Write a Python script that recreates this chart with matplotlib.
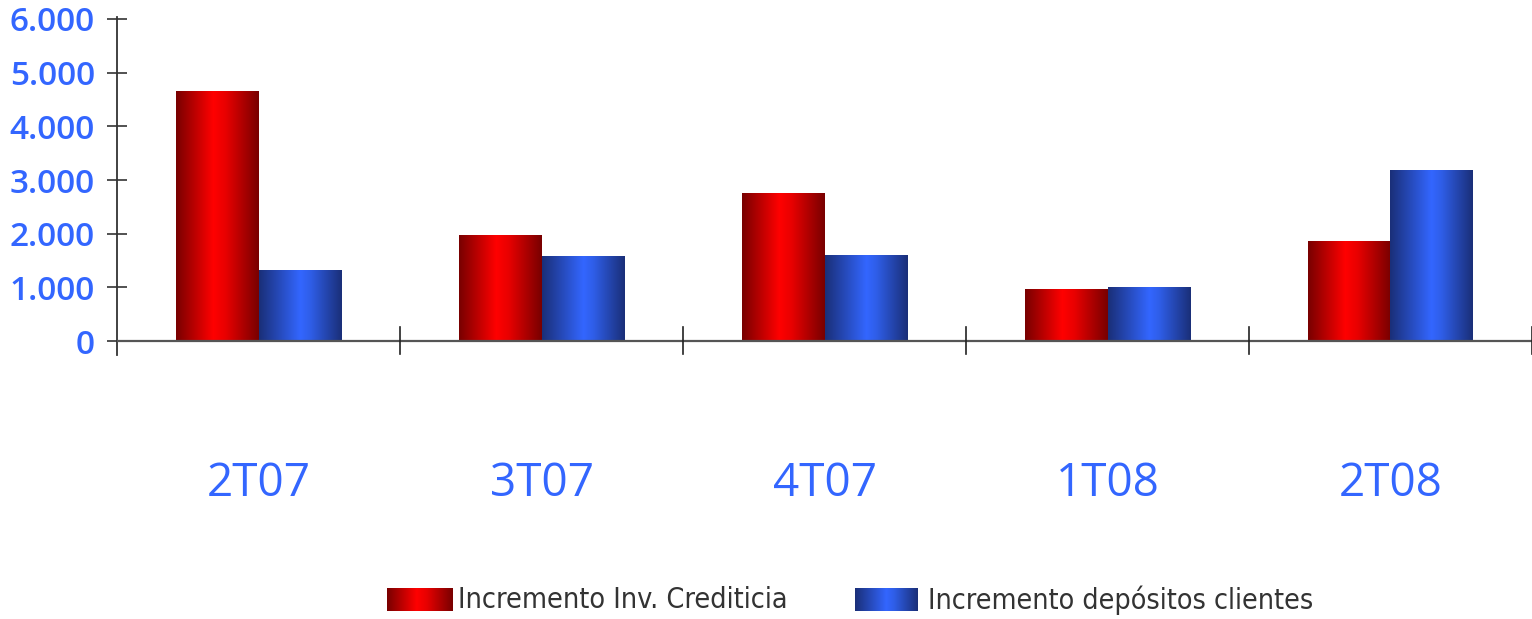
import numpy as np
import matplotlib
matplotlib.use("Agg")
import matplotlib.pyplot as plt
from matplotlib import font_manager
from matplotlib.colors import LinearSegmentedColormap

# data
trimestres = ["2T07", "3T07", "4T07", "1T08", "2T08"]
inv_crediticia = [4660, 1975, 2755, 970, 1865]
depositos = [1320, 1585, 1600, 1005, 3185]
series_names = ["Incremento Inv. Crediticia", "Incremento depósitos clientes"]
yticks = [0, 1000, 2000, 3000, 4000, 5000, 6000]

BLUE_TXT = "#3366ff"
red_cmap = LinearSegmentedColormap.from_list(
    "r", [(0, "#780000"), (0.45, "#ff0000"), (0.6, "#e80000"), (1, "#780000")])
blue_cmap = LinearSegmentedColormap.from_list(
    "b", [(0, "#1a2f78"), (0.5, "#3366ff"), (0.62, "#2f5ee8"), (1, "#1a2f78")])

names = {f.name for f in font_manager.fontManager.ttflist}
main_font = "Open Sans" if "Open Sans" in names else "DejaVu Sans"

fig = plt.figure(figsize=(15.32, 6.19), dpi=100)
H = 619.0
ax = fig.add_axes([117 / 1532, (H - 355) / H, 1 - 117 / 1532, (355 - 17) / H])

x = np.arange(len(trimestres))
w = 0.29
grad = np.linspace(0, 1, 256).reshape(1, -1)


def gradient_bars(xpos, vals, cmap):
    bars = ax.bar(xpos, vals, w, color="none", edgecolor="none", zorder=2)
    for b in bars:
        x0, y0 = b.get_x(), b.get_y()
        im = ax.imshow(grad, cmap=cmap, aspect="auto", zorder=2,
                       extent=(x0, x0 + b.get_width(), y0, y0 + b.get_height()))
        im.set_clip_path(b)


gradient_bars(x - w / 2, inv_crediticia, red_cmap)
gradient_bars(x + w / 2, depositos, blue_cmap)

ax.set_xlim(-0.5, len(trimestres) - 0.5)
ax.set_ylim(-260, 6037)

for s in ["top", "right", "bottom"]:
    ax.spines[s].set_visible(False)
ax.spines["left"].set_color("#333333")
ax.spines["left"].set_linewidth(1.3)
ax.axhline(0, color="#555555", lw=1.6, zorder=3)

# category separators
for xb in np.arange(0.5, len(trimestres), 1.0):
    ax.plot([xb, xb], [-250, 260], color="#222222", lw=1.2, zorder=3, clip_on=False)

ax.set_yticks(yticks)
ax.set_yticklabels([f"{v:,}".replace(",", ".") for v in yticks])
ax.tick_params(axis="y", direction="inout", length=14, width=1.2, color="#333333",
               pad=9, labelcolor=BLUE_TXT, labelsize=24)
for t in ax.get_yticklabels():
    t.set_fontfamily(main_font)
    t.set_fontweight("semibold")

ax.set_xticks(x)
ax.set_xticklabels(trimestres, fontsize=33, color=BLUE_TXT, fontfamily=main_font)
ax.tick_params(axis="x", length=0, pad=76)

# legend
cmaps = [red_cmap, blue_cmap]
sw_x = [387, 855]
sw_w = [65, 63]
tx_x = [458, 928]
tx_w = [330, 386]
renderer = fig.canvas.get_renderer()
for name, cm, sx, sw, tx, tw in zip(series_names, cmaps, sw_x, sw_w, tx_x, tx_w):
    sax = fig.add_axes([sx / 1532, (H - 611) / H, sw / 1532, 23 / H])
    sax.imshow(grad, cmap=cm, aspect="auto")
    sax.axis("off")
    t = fig.text(tx / 1532, (H - 600) / H, name, fontsize=21, color="#333333",
                 fontfamily="DejaVu Sans", fontstretch="condensed",
                 va="center", ha="left")
    cur = t.get_window_extent(renderer).width
    t.set_fontsize(21 * tw / cur)

fig.savefig("out.png", dpi=100)
